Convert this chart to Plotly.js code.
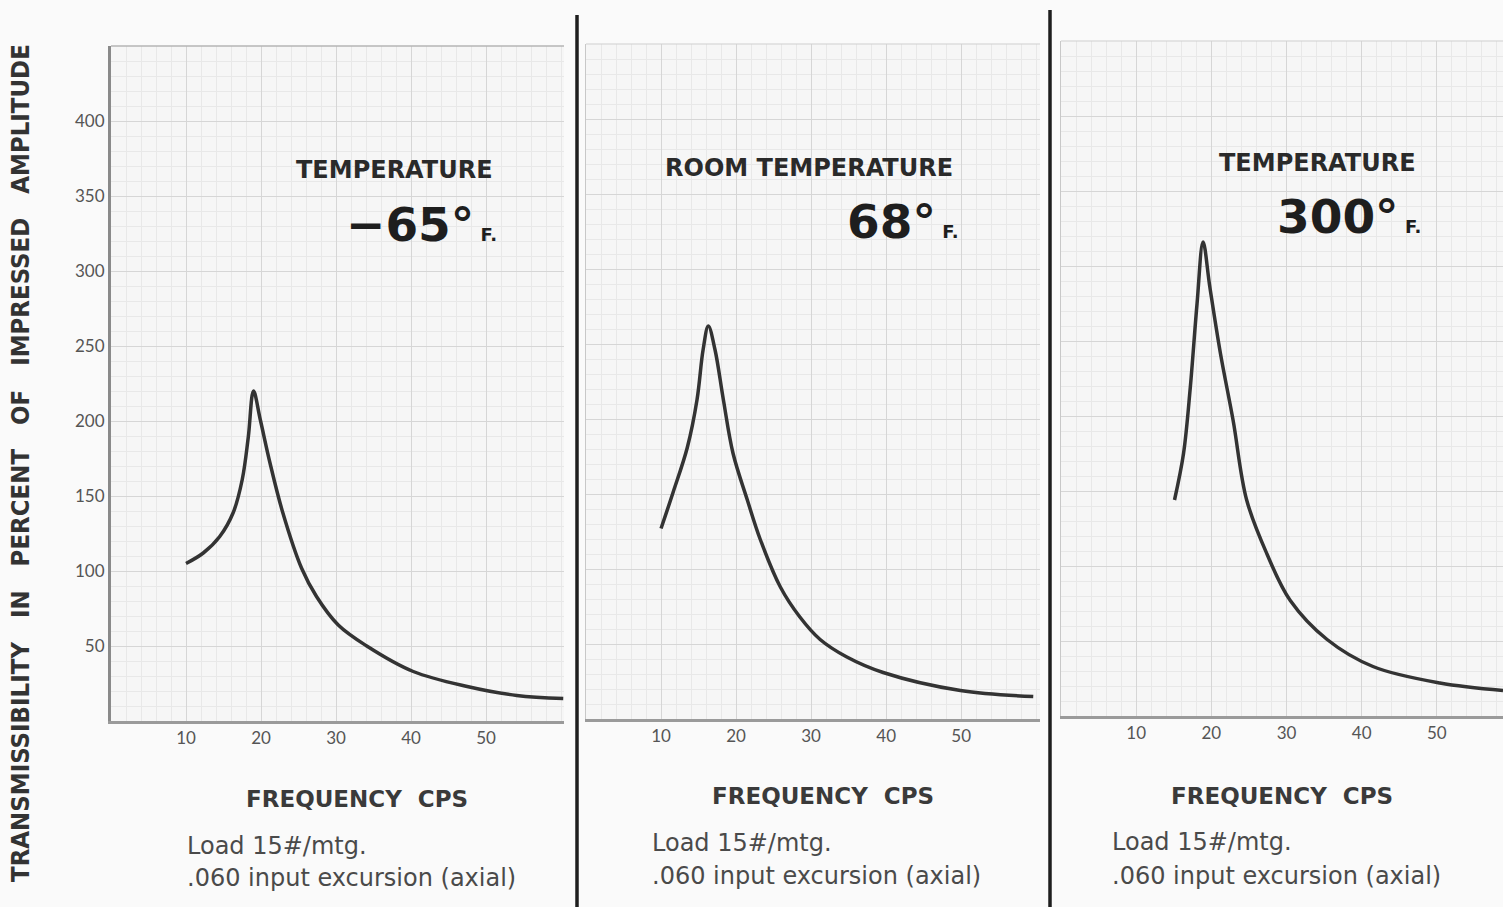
<!DOCTYPE html>
<html>
<head>
<meta charset="utf-8">
<script src="https://cdn.plot.ly/plotly-3.0.1.min.js"></script>
<style>html,body{margin:0;padding:0;background:#fafafa;}#chart{width:1503px;height:907px;}</style>
</head>
<body>
<div id="chart"></div>
<script>
// ---- data ----
var freqCold  = [10, 12.3, 14.5, 16.3, 17.5, 18.3, 19.0, 19.9, 21.2, 22.9, 25.4, 27.4, 30.3, 34.1, 40.3, 47.5, 54.1, 60.3];
var transCold = [105, 112, 123, 139, 161, 189, 220, 201, 172, 139, 102, 83, 64, 50, 33, 23, 17, 15];

var freqRoom  = [10, 11.6, 13.5, 14.8, 15.6, 16.3, 17.2, 18.3, 19.6, 21.5, 23.2, 25.9, 28.5, 31.2, 34.7, 39.6, 49.9, 59.6];
var transRoom = [127, 151, 181, 213, 246, 262, 246, 213, 177, 146, 120, 88, 68, 53, 41.5, 31, 19, 15];

var freqHot   = [15.1, 16.3, 17.2, 18.1, 18.9, 19.8, 21.2, 22.9, 24.7, 27.4, 30.5, 35.4, 41.5, 50.4, 58.8];
var transHot  = [144, 175, 219, 275, 316, 286, 242, 197, 144, 108, 77, 51, 33, 22, 17];

var xTickVals = [10, 20, 30, 40, 50];
var xTickText = ["10", "20", "30", "40", "50"];
var yTickVals = [50, 100, 150, 200, 250, 300, 350, 400];
var yTickText = ["50", "100", "150", "200", "250", "300", "350", "400"];

var panelTitles = ["TEMPERATURE", "ROOM TEMPERATURE", "TEMPERATURE"];
var panelTemps  = ["\u221265\u00b0", "68\u00b0", "300\u00b0"];
var xTitle = "FREQUENCY\u00a0 CPS";
var note1 = "Load 15#/mtg.";
var note2 = ".060 input excursion (axial)";
var GAP = "\u00a0\u00a0 ";
var yTitle = ["TRANSMISSIBILITY", "IN", "PERCENT", "OF", "IMPRESSED", "AMPLITUDE"].join(GAP);

// ---- layout helpers (pixel -> paper) ----
var W = 1503, H = 907;
function px(x){ return x / W; }
function py(y){ return 1 - y / H; }

var lineStyle = {color: '#333333', width: 3.5, shape: 'spline', smoothing: 1.0};
var traces = [
  {x: freqCold, y: transCold, xaxis: 'x',  yaxis: 'y',  mode: 'lines', line: lineStyle, hoverinfo: 'skip'},
  {x: freqRoom, y: transRoom, xaxis: 'x2', yaxis: 'y2', mode: 'lines', line: lineStyle, hoverinfo: 'skip'},
  {x: freqHot,  y: transHot,  xaxis: 'x3', yaxis: 'y3', mode: 'lines', line: lineStyle, hoverinfo: 'skip'}
];

var tickFont = {family: 'Lato, "Open Sans", sans-serif', size: 17, color: '#555555'};
var gridMajor = '#d6d6d6', gridMinor = '#e8e8e8';

function xAxis(d0, d1, rmax, anchor){
  return {
    domain: [px(d0), px(d1)], range: [0, rmax], anchor: anchor,
    tickmode: 'array', tickvals: xTickVals, ticktext: xTickText,
    ticks: '', tickfont: tickFont,
    showgrid: true, gridcolor: gridMajor, gridwidth: 1,
    minor: {dtick: 2, showgrid: true, gridcolor: gridMinor, gridwidth: 1},
    showline: true, linecolor: '#9a9a9a', linewidth: 3,
    zeroline: false, fixedrange: true
  };
}
function yAxis(bottom, top, anchor, showLabels, lineCol, lineW){
  return {
    domain: [py(bottom), py(top)], range: [0, 450], anchor: anchor,
    tickmode: 'array', tickvals: yTickVals, ticktext: yTickText,
    showticklabels: showLabels, ticks: '', tickfont: tickFont,
    showgrid: true, gridcolor: gridMajor, gridwidth: 1,
    minor: {dtick: 10, showgrid: true, gridcolor: gridMinor, gridwidth: 1},
    showline: true, linecolor: lineCol, linewidth: lineW,
    zeroline: false, fixedrange: true
  };
}

var heavy = '"DejaVu Sans", Lato, sans-serif';
var headFont = {family: heavy, size: 24, color: '#2a2a2a', weight: 'bold'};
var bigFont  = {family: heavy, size: 47, color: '#1e1e1e', weight: 'bold'};
var freqFont = {family: heavy, size: 23, color: '#3a3a3a', weight: 'bold'};
var noteFont = {family: '"DejaVu Sans", sans-serif', size: 24, color: '#4a4a4a'};

var annotations = [];
var panels = [
  {titleX: 394, titleY: 170, tempRight: 499, tempY: 224, freqX: 357, freqY: 799, noteX: 185, noteY1: 846, noteY2: 878},
  {titleX: 809, titleY: 168, tempRight: 961, tempY: 221, freqX: 823, freqY: 796, noteX: 650, noteY1: 843, noteY2: 876},
  {titleX: 1317, titleY: 163, tempRight: 1423, tempY: 217, freqX: 1282, freqY: 796, noteX: 1110, noteY1: 842, noteY2: 876}
];
panels.forEach(function(p, i){
  annotations.push({xref: 'paper', yref: 'paper', x: px(p.titleX), y: py(p.titleY), xanchor: 'center', yanchor: 'middle',
    text: panelTitles[i], showarrow: false, font: headFont});
  annotations.push({xref: 'paper', yref: 'paper', x: px(p.tempRight), y: py(p.tempY), xanchor: 'right', yanchor: 'middle',
    text: panelTemps[i] + '<span style="font-size:18px"> F.</span>', showarrow: false, font: bigFont});
  annotations.push({xref: 'paper', yref: 'paper', x: px(p.freqX), y: py(p.freqY), xanchor: 'center', yanchor: 'middle',
    text: xTitle, showarrow: false, font: freqFont});
  annotations.push({xref: 'paper', yref: 'paper', x: px(p.noteX), y: py(p.noteY1), xanchor: 'left', yanchor: 'middle',
    text: note1, showarrow: false, font: noteFont});
  annotations.push({xref: 'paper', yref: 'paper', x: px(p.noteX), y: py(p.noteY2), xanchor: 'left', yanchor: 'middle',
    text: note2, showarrow: false, font: noteFont});
});
annotations.push({xref: 'paper', yref: 'paper', x: px(20), y: py(463), xanchor: 'center', yanchor: 'middle',
  text: yTitle, textangle: -90, showarrow: false,
  font: {family: '"DejaVu Sans Condensed", "DejaVu Sans", sans-serif', size: 25.5, color: '#333333', weight: 'bold'}});

var layout = {
  width: W, height: H,
  margin: {l: 0, r: 0, t: 0, b: 0},
  paper_bgcolor: '#fafafa', plot_bgcolor: '#f6f6f6',
  showlegend: false,
  xaxis:  xAxis(111, 564, 60.4, 'y'),
  xaxis2: xAxis(586, 1040, 60.5, 'y2'),
  xaxis3: xAxis(1061, 1503, 58.8, 'y3'),
  yaxis:  yAxis(721, 46, 'x', true, '#8a8a8a', 3),
  yaxis2: yAxis(719, 44, 'x2', false, '#c8c8c8', 1.5),
  yaxis3: yAxis(716, 41, 'x3', false, '#c8c8c8', 1.5),
  annotations: annotations,
  shapes: [
    {type: 'line', xref: 'paper', yref: 'paper', x0: px(111), x1: px(564), y0: py(46), y1: py(46), line: {color: '#b5b5b5', width: 1.5}},
    {type: 'line', xref: 'paper', yref: 'paper', x0: px(586), x1: px(1040), y0: py(44), y1: py(44), line: {color: '#cfcfcf', width: 1}},
    {type: 'line', xref: 'paper', yref: 'paper', x0: px(1061), x1: px(1503), y0: py(41), y1: py(41), line: {color: '#cfcfcf', width: 1}},
    {type: 'line', xref: 'paper', yref: 'paper', x0: px(577), x1: px(577), y0: py(15), y1: 0, line: {color: '#1e1e1e', width: 3.5}},
    {type: 'line', xref: 'paper', yref: 'paper', x0: px(1050), x1: px(1050), y0: py(10), y1: 0, line: {color: '#1e1e1e', width: 3.5}}
  ]
};

Plotly.newPlot('chart', traces, layout, {displayModeBar: false, staticPlot: true});
</script>
</body>
</html>
